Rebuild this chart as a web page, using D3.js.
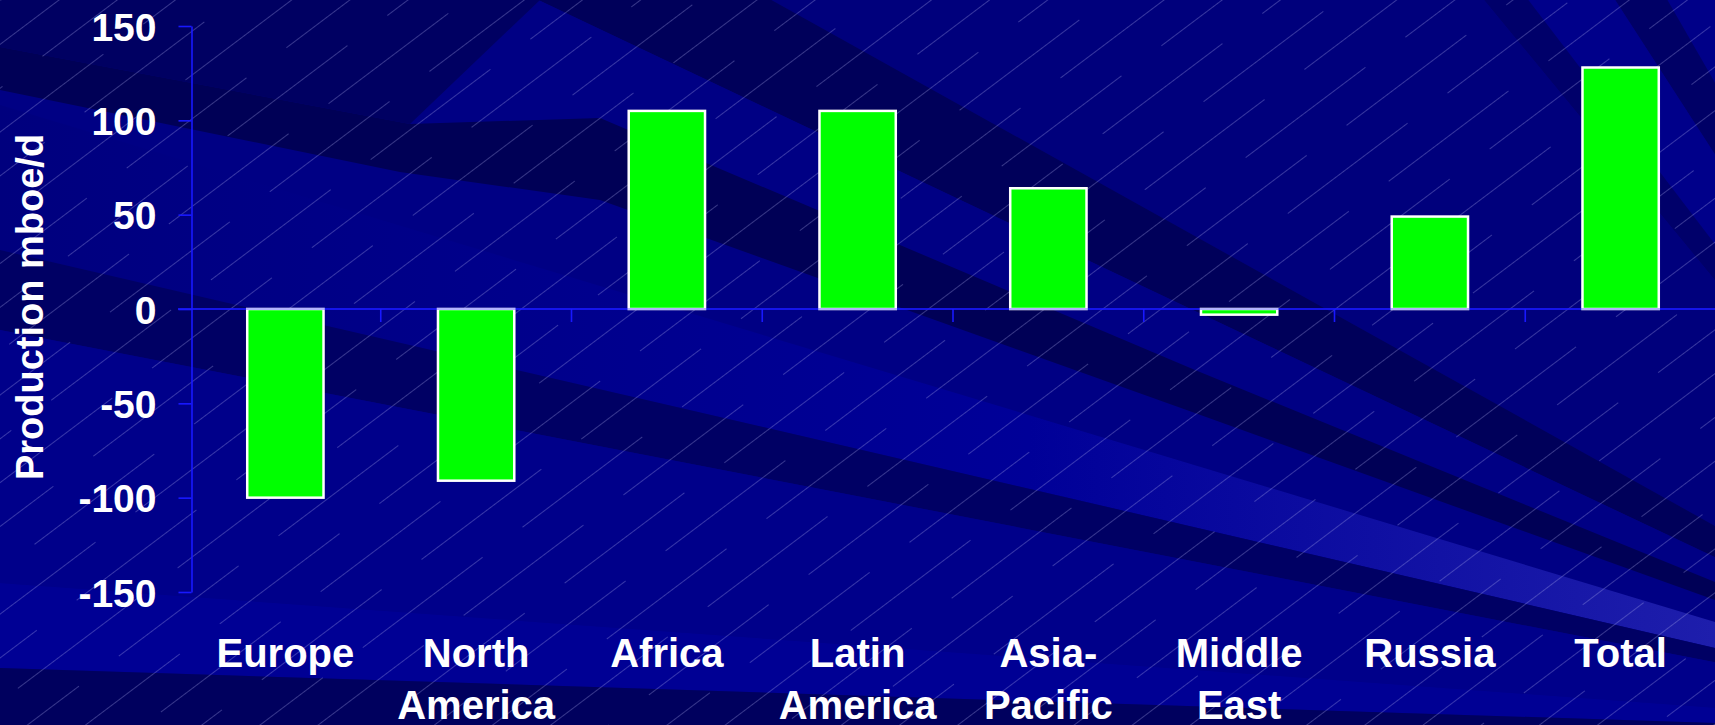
<!DOCTYPE html>
<html><head><meta charset="utf-8">
<script src="https://cdn.jsdelivr.net/npm/d3@7"></script>
<style>html,body{margin:0;padding:0;background:#000080;overflow:hidden}</style>
</head><body><svg id="c" width="1715" height="725"></svg>
<script>
// ---- data ----
const categories = ["Europe","North America","Africa","Latin America","Asia-Pacific","Middle East","Russia","Total"];
const categoryLines = [["Europe"],["North","America"],["Africa"],["Latin","America"],["Asia-","Pacific"],["Middle","East"],["Russia"],["Total"]];
const values = [-100, -91, 105, 105, 64, -3, 49, 128];
const yTicks = [-150, -100, -50, 0, 50, 100, 150];
const yTitle = "Production mboe/d";

// ---- background decoration (template rays) ----
const bgApex = [2090, 735];
const bgWedgeY0 = [-4000, -2900, -2500, -2000, -1800, -430, -255, 105, 250, 330, 583, 668, 3000];
const bgWedgeFill = ["#000088", "#000066", "#00008a", "#00006a", "#00007c", "#00005a", "#000084", "url(#lightBand)", "#000064", "#00008a", "#000094", "#00005e"];
const bgTopLeft = [[0, 0], [540, 0], [410, 124], [0, 47]];
const bgStreak = [[0, 47], [410, 124], [600, 118], [1195, 370], [2090, 735], [1195, 413], [600, 200], [400, 172], [0, 90]];

const W = 1715, H = 725;
const svg = d3.select("#c");
const defs = svg.append("defs");

const grad = defs.append("linearGradient").attr("id", "lightBand")
  .attr("gradientUnits", "userSpaceOnUse").attr("x1", 0).attr("y1", 0).attr("x2", W).attr("y2", 0);
grad.append("stop").attr("offset", 0).attr("stop-color", "#00007e");
grad.append("stop").attr("offset", 0.6).attr("stop-color", "#000098");
grad.append("stop").attr("offset", 1).attr("stop-color", "#1e1eac");

const hatchStroke = "rgba(170,170,235,0.33)";
const pat = defs.append("pattern").attr("id", "hatch").attr("patternUnits", "userSpaceOnUse")
  .attr("width", 200).attr("height", 70).attr("patternTransform", "rotate(-37)");
[[0, 0.5, 150], [100, 35.5, 200], [0, 35.5, 50]].forEach(([a, yy, b]) =>
  pat.append("line").attr("x1", a).attr("y1", yy).attr("x2", b).attr("y2", yy)
    .attr("stroke", hatchStroke).attr("stroke-width", 1));

const pts = arr => arr.map(p => p.join(",")).join(" ");
const bg = svg.append("g");
bg.append("rect").attr("width", W).attr("height", H).attr("fill", "#000084");
bg.selectAll("polygon.w").data(bgWedgeFill).join("polygon").attr("class", "w")
  .attr("points", (f, i) => pts([bgApex, [0, bgWedgeY0[i]], [0, bgWedgeY0[i + 1]]]))
  .attr("fill", f => f);
bg.append("polygon").attr("points", pts(bgTopLeft)).attr("fill", "#000062");
bg.append("polygon").attr("points", pts(bgStreak)).attr("fill", "#000056");
bg.append("rect").attr("width", W).attr("height", H).attr("fill", "url(#hatch)");

// ---- scales ----
const x = d3.scaleBand().domain(categories).range([190, 1716]).paddingInner(0.6).paddingOuter(0.3);
const y = d3.scaleLinear().domain([-150, 150]).range([592, 26]);
const step = x.step();
const axisColor = "#1818ff";
const font = "'Liberation Sans', Arial, Helvetica, sans-serif";

// zero line (under bars)
const zeroY = y(0);
svg.append("line").attr("x1", 178).attr("x2", W).attr("y1", zeroY).attr("y2", zeroY)
  .attr("stroke", axisColor).attr("stroke-width", 1.6);

// category tick marks
svg.append("g").selectAll("line").data(categories).join("line")
  .attr("x1", d => x(d) + x.bandwidth() / 2 + step / 2)
  .attr("x2", d => x(d) + x.bandwidth() / 2 + step / 2)
  .attr("y1", zeroY).attr("y2", zeroY + 13)
  .attr("stroke", axisColor).attr("stroke-width", 1.6);

// y axis
const yAxis = svg.append("g").attr("transform", `translate(${x.range()[0] + 1.5},0)`)
  .call(d3.axisLeft(y).tickValues(yTicks).tickSize(13).tickSizeOuter(0).tickPadding(22).tickFormat(d => String(d)));
yAxis.select(".domain").attr("stroke", axisColor).attr("stroke-width", 1.6);
yAxis.selectAll(".tick line").attr("stroke", axisColor).attr("stroke-width", 1.6);
yAxis.selectAll(".tick text").attr("fill", "#ffffff").attr("font-family", font)
  .attr("font-weight", "bold").attr("font-size", 39).attr("dy", "0.36em");

// bars
svg.append("g").selectAll("rect").data(values).join("rect")
  .attr("x", (v, i) => x(categories[i]))
  .attr("width", x.bandwidth())
  .attr("y", v => y(Math.max(0, v)))
  .attr("height", v => Math.abs(y(v) - y(0)))
  .attr("fill", "#00ff00").attr("stroke", "#ffffff").attr("stroke-width", 2.5);

// zero line overlay (tints bar bottoms)
svg.append("line").attr("x1", 178).attr("x2", W).attr("y1", zeroY).attr("y2", zeroY)
  .attr("stroke", "#2020ff").attr("stroke-opacity", 0.45).attr("stroke-width", 1.6);

// category labels
const cl = svg.append("g").selectAll("text").data(categories).join("text")
  .attr("x", d => x(d) + x.bandwidth() / 2).attr("y", 667)
  .attr("text-anchor", "middle").attr("fill", "#ffffff").attr("font-family", font)
  .attr("font-weight", "bold").attr("font-size", 40);
cl.selectAll("tspan").data((d, i) => categoryLines[i]).join("tspan")
  .attr("x", function () { return this.parentNode.getAttribute("x"); })
  .attr("dy", (d, j) => j === 0 ? 0 : 52)
  .text(d => d);

// y title
svg.append("text").attr("transform", "translate(43,307) rotate(-90)")
  .attr("text-anchor", "middle").attr("fill", "#ffffff").attr("font-family", font)
  .attr("font-weight", "bold").attr("font-size", 38).text(yTitle);
</script></body></html>
